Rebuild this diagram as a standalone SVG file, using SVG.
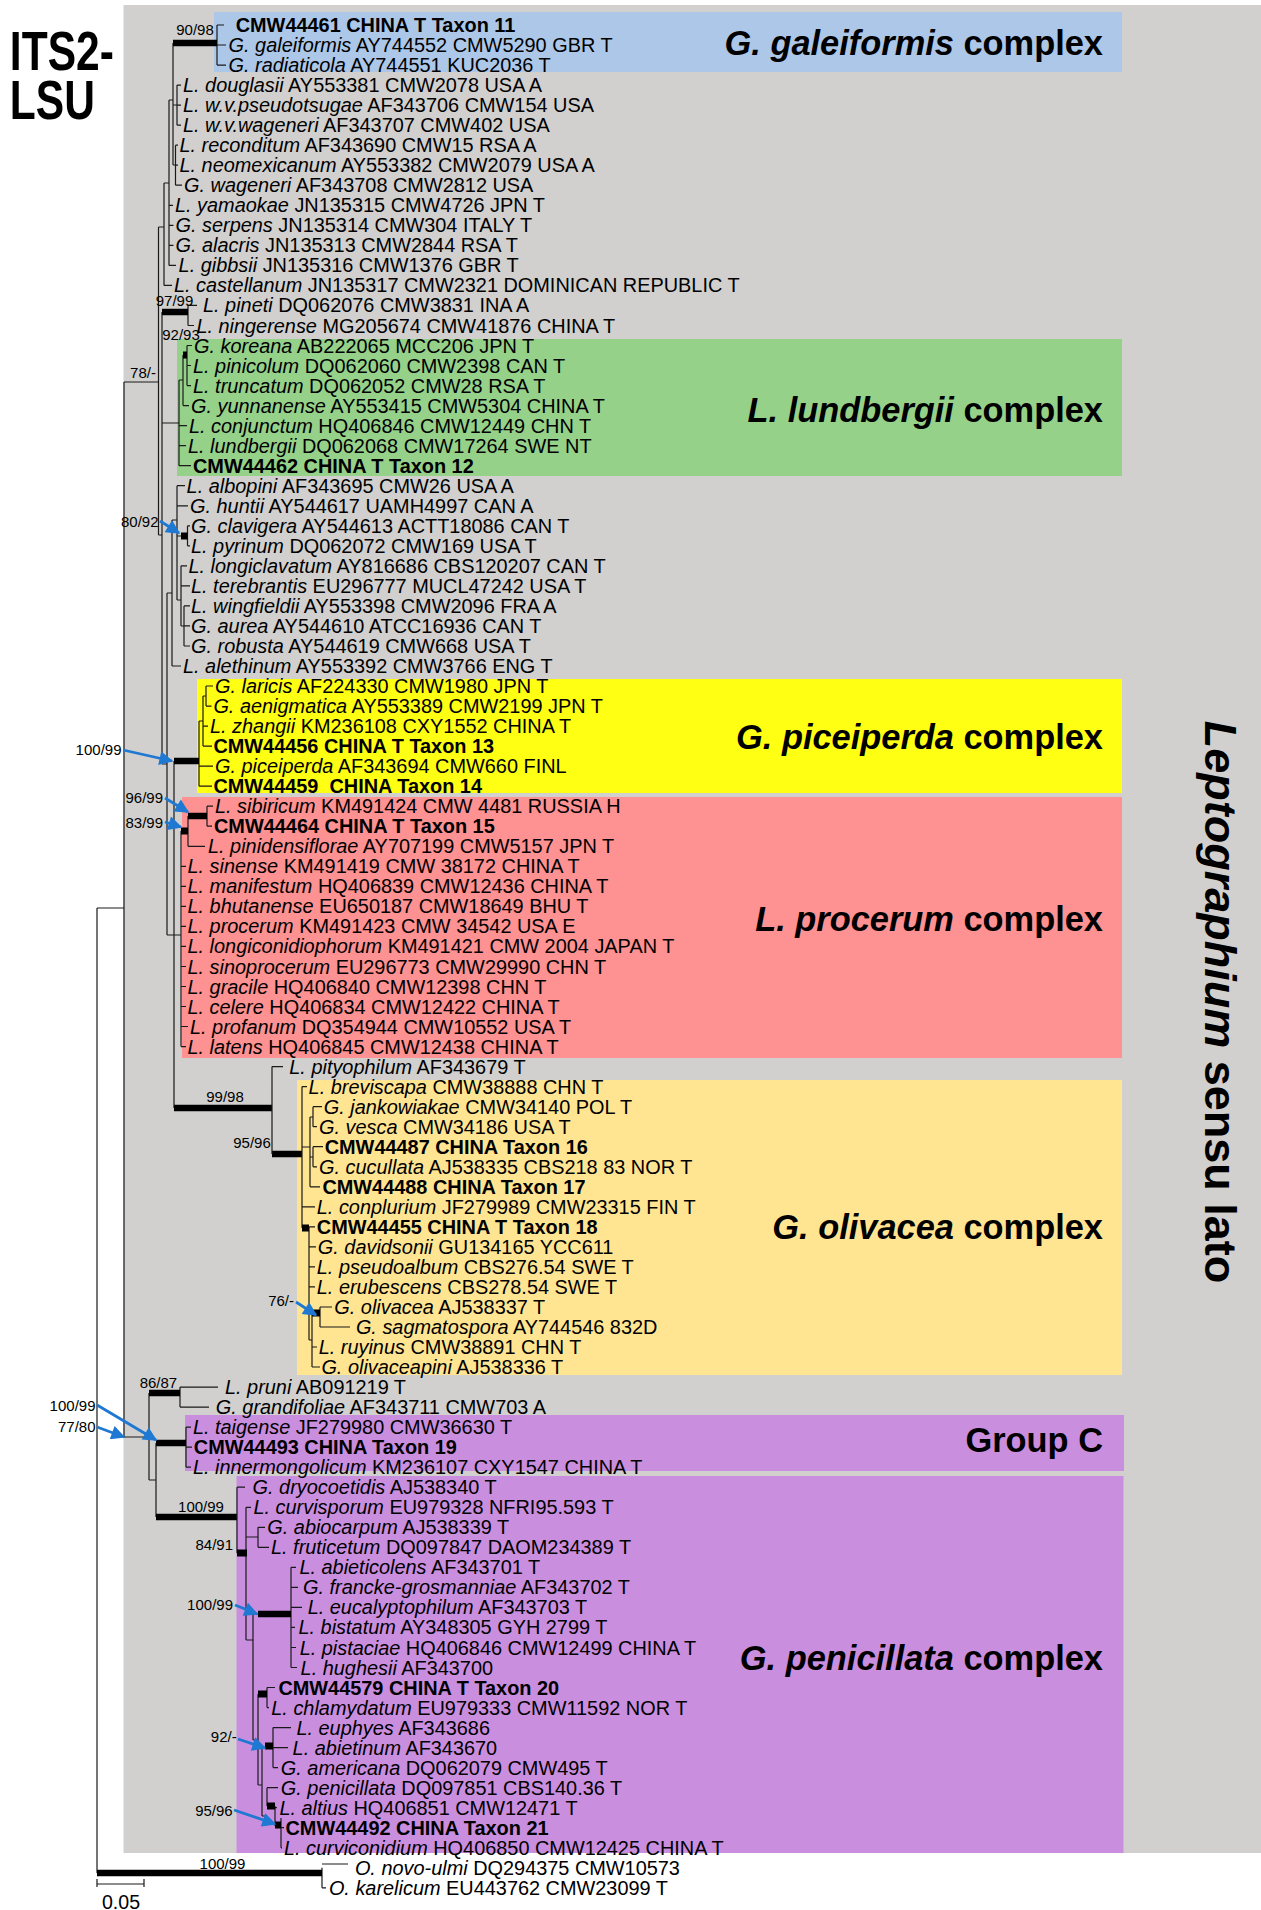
<svg xmlns="http://www.w3.org/2000/svg" width="1261" height="1910" viewBox="0 0 1261 1910">
<defs>
<marker id="ah" viewBox="0 0 10 10" refX="9" refY="5" markerWidth="18" markerHeight="14" markerUnits="userSpaceOnUse" orient="auto"><path d="M0,0 L10,5 L0,10 z" fill="#1f78d1"/></marker>
</defs>
<style>
text{font-family:"Liberation Sans",Arial,Helvetica,sans-serif;fill:#000}
.tx{font-size:19.9px}
.i{font-style:italic}
.b{font-weight:bold}
.sp{font-size:15px;text-anchor:middle}
.spe{font-size:15px;text-anchor:end}
.cl{font-size:34.4px;font-weight:bold;text-anchor:end}
.ti{font-size:56px;font-weight:bold}
.th{fill:none;stroke:#1a1a1a;stroke-width:1.2}
.tb{fill:none;stroke:#000;stroke-width:6.5}
.sq{fill:none;stroke:#000;stroke-width:7}
.ar{fill:none;stroke:#1f78d1;stroke-width:2.8;marker-end:url(#ah)}
</style>
<rect x="0" y="0" width="1261" height="1910" fill="#fff"/>
<g id="backgrounds">
<rect id="bg-lsl" x="123.5" y="5" width="1137.5" height="1848" fill="#d1d0ce"/>
<rect id="bg-galeiformis" x="214" y="12" width="908" height="60" fill="#adc7e9"/>
<rect id="bg-lundbergii" x="177" y="339" width="945" height="137" fill="#96d18a"/>
<rect id="bg-piceiperda" x="197" y="679" width="925" height="114" fill="#ffff14"/>
<rect id="bg-procerum" x="182" y="797" width="940" height="261" fill="#fe9191"/>
<rect id="bg-olivacea" x="297" y="1080" width="825" height="295" fill="#ffe592"/>
<rect id="bg-groupc" x="185" y="1415" width="939" height="56" fill="#ca8edf"/>
<rect id="bg-penicillata" x="236.5" y="1476" width="887" height="377" fill="#ca8edf"/>
</g>
<g id="title" transform="scale(0.76,1)">
<text class="ti" x="13" y="70">ITS2-</text>
<text class="ti" x="13" y="119">LSU</text>
</g>
<g id="clade-labels">
<g id="lab-galeiformis"><text class="cl" x="1103" y="55"><tspan class="i">G. galeiformis</tspan> complex</text></g>
<g id="lab-lundbergii"><text class="cl" x="1103" y="422"><tspan class="i">L. lundbergii</tspan> complex</text></g>
<g id="lab-piceiperda"><text class="cl" x="1103" y="749"><tspan class="i">G. piceiperda</tspan> complex</text></g>
<g id="lab-procerum"><text class="cl" x="1103" y="931"><tspan class="i">L. procerum</tspan> complex</text></g>
<g id="lab-olivacea"><text class="cl" x="1103" y="1239"><tspan class="i">G. olivacea</tspan> complex</text></g>
<g id="lab-groupc"><text class="cl" x="1103" y="1452">Group C</text></g>
<g id="lab-penicillata"><text class="cl" x="1103" y="1670"><tspan class="i">G. penicillata</tspan> complex</text></g>
<g id="lab-lsl"><text transform="translate(1205,1002) rotate(90)" text-anchor="middle" font-size="45" font-weight="bold"><tspan class="i">Leptographium</tspan> sensu lato</text></g>
</g>
<g id="connectors">
<path class="th" d="M97 908 V1873 M97 908 H124 M322 1867.8 V1887.8 M322 1864 H348 M322 1887.8 H326"/>
<path class="tb" d="M97 1873 H322"/>
<path class="th" d="M97 1884 H144 M97 1879 V1887 M144 1879 V1887"/>
<path class="th" d="M124 382 V1437 M124 382 H158.5 M158.5 227 V535"/>
<path class="th" d="M158.5 227 H164 M164 183 V285.4 M164 285.4 H172 M164 183 H169 M169 100 V265.4 M169 205.3 H173 M169 225.3 H173.5 M169 245.3 H173.5 M169 265.4 H176 M169 100 H173 M173 43 V165 M217 25 V65.1 M217 25 H224 M217 45 H226 M217 65.1 H226 M173 105 H177 M177 85.1 V125.2 M177 85.1 H181 M177 105.1 H181 M177 125.2 H181 M173 165 H175.5 M175.5 145.2 V185.2 M175.5 145.2 H178 M175.5 165.2 H178 M175.5 185.2 H182"/>
<path class="tb" d="M173 43 H217"/>
<path class="th" d="M158.5 535 H162 M162 312 V764 M188 305.4 V325.5 M188 305.4 H197 M188 325.5 H194 M162 423 H179 M179 380 V465.7 M179 425.6 H187 M179 445.7 H186 M179 465.7 H191 M179 380 H183 M183 355 V405.6 M183 405.6 H189 M187 345.5 V385.6 M187 345.5 H192 M187 365.5 H191 M187 385.6 H191"/>
<path class="tb" d="M162 312 H188"/>
<path class="sq" d="M183 355 H187"/>
<path class="th" d="M162 764 H167 M167 593 V935 M167 593 H172 M172 520 V666 M172 666 H181 M172 520 H177 M177 485.7 V600 M177 485.7 H185 M177 505.8 H188 M177 536 H181 M187.5 525.8 V545.8 M187.5 525.8 H190 M187.5 545.8 H190 M177 600 H181 M181 565.8 V626 M181 565.8 H187 M181 585.9 H190 M181 626 H184 M184 605.9 V646 M184 605.9 H190 M184 625.9 H190 M184 646 H190"/>
<path class="sq" d="M181 536 H187.5"/>
<path class="th" d="M167 935 H181 M174 761 V1108 M199 721 V786.2 M199 766.1 H213 M199 786.2 H212 M199 721 H203 M203 696 V746.1 M203 726.1 H208 M203 746.1 H212 M203 696 H206 M206 686 V706.1 M206 686 H213 M206 706.1 H211.5"/>
<path class="tb" d="M174 761 H199"/>
<path class="th" d="M181 831 V1046.6 M181 866.3 H186 M181 886.3 H186 M181 906.4 H186 M181 926.4 H186 M181 946.4 H186 M181 966.5 H186 M181 986.5 H186 M181 1006.5 H186 M181 1026.5 H188 M181 1046.6 H186 M188 816 V846.3 M188 846.3 H205 M207 806.2 V826.2 M207 806.2 H213 M207 826.2 H212"/>
<path class="sq" d="M181 831 H188"/>
<path class="tb" d="M188 816 H207"/>
<path class="tb" d="M174 1108 H272 M272 1154 H302"/>
<path class="th" d="M272 1066.6 V1154 M272 1066.6 H283 M302 1086.6 V1228 M302 1086.6 H307 M302 1206.8 H315 M302 1147 H310 M310 1117 V1186.8 M310 1186.8 H320 M310 1117 H313 M313 1106.7 V1126.7 M313 1106.7 H322 M313 1126.7 H317 M310 1157 H313 M313 1146.7 V1166.8 M313 1146.7 H323 M313 1166.8 H317 M309 1226.8 V1340 M309 1226.8 H315 M309 1246.9 H316 M309 1266.9 H315 M309 1286.9 H315 M309 1340 H312 M312 1313 V1367 M312 1347 H317 M312 1367 H320 M320 1307 V1327 M320 1307 H332 M320 1327 H350"/>
<path class="sq" d="M302 1228 H309 M312 1313 H320"/>
<path class="th" d="M124 1437 H149 M149 1393 V1480 M180 1387.1 V1407.1 M180 1387.1 H218 M180 1407.1 H209 M149 1480 H156 M156 1443 V1517 M186 1427.1 V1467.2 M186 1427.1 H191 M186 1447.2 H192 M186 1467.2 H191"/>
<path class="tb" d="M149 1393 H180 M156 1443 H186 M156 1517 H237"/>
<path class="th" d="M237 1487.2 V1553 M237 1487.2 H245 M246 1507.3 V1640 M246 1507.3 H251 M246 1537 H258 M258 1527.3 V1547.3 M258 1527.3 H265 M258 1547.3 H269 M246 1640 H253 M253 1614 V1740 M253 1614 H258 M291 1567.3 V1667.5 M291 1567.3 H296 M291 1587.4 H298 M291 1607.4 H302 M291 1627.4 H295 M291 1647.5 H296 M291 1667.5 H297 M253 1740 H258 M258 1694 V1785 M267 1687.5 V1707.6 M267 1687.5 H275 M267 1707.6 H269 M258 1785 H262 M262 1746 V1816 M273 1727.6 V1767.6 M273 1727.6 H291 M273 1747.6 H288 M273 1767.6 H278 M262 1816 H267 M267 1787.7 V1806 M267 1787.7 H278 M275 1806 V1826 M275 1807.7 H277 M281 1818 V1847.8 M281 1827.7 H284 M281 1847.8 H282"/>
<path class="tb" d="M258 1614 H291"/>
<path class="sq" d="M237 1553 H247 M258 1694 H267 M265 1746 H273 M267 1806 H275 M275 1825 H281"/>
</g>
<g id="arrows">
<path class="ar" d="M160 521 L179 533"/>
<path class="ar" d="M123 750 L172 761"/>
<path class="ar" d="M165 798 L188 812"/>
<path class="ar" d="M165 822 L181 827"/>
<path class="ar" d="M296 1302 L316 1315"/>
<path class="ar" d="M97 1405 L156 1440"/>
<path class="ar" d="M97 1427 L124 1437"/>
<path class="ar" d="M235 1605 L257 1614"/>
<path class="ar" d="M238 1739 L265 1748"/>
<path class="ar" d="M234 1810 L275 1824"/>
</g>
<g id="support">
<text class="sp" x="195" y="35">90/98</text>
<text class="sp" x="174.5" y="306">97/99</text>
<text class="sp" x="181" y="340">92/93</text>
<text class="sp" x="143" y="378">78/-</text>
<text class="spe" x="158.5" y="527">80/92</text>
<text class="spe" x="121.5" y="754.5">100/99</text>
<text class="spe" x="163" y="803">96/99</text>
<text class="spe" x="163" y="827.5">83/99</text>
<text class="sp" x="225" y="1102">99/98</text>
<text class="sp" x="252" y="1148">95/96</text>
<text class="spe" x="294" y="1306">76/-</text>
<text class="sp" x="158.4" y="1388">86/87</text>
<text class="spe" x="95.5" y="1411">100/99</text>
<text class="spe" x="95.5" y="1432">77/80</text>
<text class="sp" x="201" y="1512">100/99</text>
<text class="spe" x="233" y="1549.5">84/91</text>
<text class="spe" x="233" y="1610">100/99</text>
<text class="spe" x="236.7" y="1742">92/-</text>
<text class="spe" x="232.7" y="1816">95/96</text>
<text class="sp" x="222.5" y="1868.5">100/99</text>
<text x="121" y="1908.5" font-size="19.6" text-anchor="middle">0.05</text>
</g>
<g id="taxa" class="tx">
<g id="t01"><text class="tx b" x="235.7" y="32">CMW44461 CHINA T Taxon 11</text></g>
<g id="t02"><text class="tx" x="228.6" y="52"><tspan class="i">G. galeiformis</tspan> AY744552 CMW5290 GBR T</text></g>
<g id="t03"><text class="tx" x="228.6" y="72.1"><tspan class="i">G. radiaticola</tspan> AY744551 KUC2036 T</text></g>
<g id="t04"><text class="tx" x="183" y="92.1"><tspan class="i">L. douglasii</tspan> AY553381 CMW2078 USA A</text></g>
<g id="t05"><text class="tx" x="183" y="112.1"><tspan class="i">L. w.v.pseudotsugae</tspan> AF343706 CMW154 USA</text></g>
<g id="t06"><text class="tx" x="183" y="132.2"><tspan class="i">L. w.v.wageneri</tspan> AF343707 CMW402 USA</text></g>
<g id="t07"><text class="tx" x="179.5" y="152.2"><tspan class="i">L. reconditum</tspan> AF343690 CMW15 RSA A</text></g>
<g id="t08"><text class="tx" x="179.5" y="172.2"><tspan class="i">L. neomexicanum</tspan> AY553382 CMW2079 USA A</text></g>
<g id="t09"><text class="tx" x="184" y="192.2"><tspan class="i">G. wageneri</tspan> AF343708 CMW2812 USA</text></g>
<g id="t10"><text class="tx" x="175" y="212.3"><tspan class="i">L. yamaokae</tspan> JN135315 CMW4726 JPN T</text></g>
<g id="t11"><text class="tx" x="175.5" y="232.3"><tspan class="i">G. serpens</tspan> JN135314 CMW304 ITALY T</text></g>
<g id="t12"><text class="tx" x="175.5" y="252.3"><tspan class="i">G. alacris</tspan> JN135313 CMW2844 RSA T</text></g>
<g id="t13"><text class="tx" x="178.6" y="272.4"><tspan class="i">L. gibbsii</tspan> JN135316 CMW1376 GBR T</text></g>
<g id="t14"><text class="tx" x="174" y="292.4"><tspan class="i">L. castellanum</tspan> JN135317 CMW2321 DOMINICAN REPUBLIC T</text></g>
<g id="t15"><text class="tx" x="203" y="312.4"><tspan class="i">L. pineti</tspan> DQ062076 CMW3831 INA A</text></g>
<g id="t16"><text class="tx" x="196.4" y="332.5"><tspan class="i">L. ningerense</tspan> MG205674 CMW41876 CHINA T</text></g>
<g id="t17"><text class="tx" x="194" y="352.5"><tspan class="i">G. koreana</tspan> AB222065 MCC206 JPN T</text></g>
<g id="t18"><text class="tx" x="193" y="372.5"><tspan class="i">L. pinicolum</tspan> DQ062060 CMW2398 CAN T</text></g>
<g id="t19"><text class="tx" x="193" y="392.6"><tspan class="i">L. truncatum</tspan> DQ062052 CMW28 RSA T</text></g>
<g id="t20"><text class="tx" x="191" y="412.6"><tspan class="i">G. yunnanense</tspan> AY553415 CMW5304 CHINA T</text></g>
<g id="t21"><text class="tx" x="189" y="432.6"><tspan class="i">L. conjunctum</tspan> HQ406846 CMW12449 CHN T</text></g>
<g id="t22"><text class="tx" x="188" y="452.7"><tspan class="i">L. lundbergii</tspan> DQ062068 CMW17264 SWE NT</text></g>
<g id="t23"><text class="tx b" x="193" y="472.7">CMW44462 CHINA T Taxon 12</text></g>
<g id="t24"><text class="tx" x="186.6" y="492.7"><tspan class="i">L. albopini</tspan> AF343695 CMW26 USA A</text></g>
<g id="t25"><text class="tx" x="190" y="512.8"><tspan class="i">G. huntii</tspan> AY544617 UAMH4997 CAN A</text></g>
<g id="t26"><text class="tx" x="191" y="532.8"><tspan class="i">G. clavigera</tspan> AY544613 ACTT18086 CAN T</text></g>
<g id="t27"><text class="tx" x="191" y="552.8"><tspan class="i">L. pyrinum</tspan> DQ062072 CMW169 USA T</text></g>
<g id="t28"><text class="tx" x="188.4" y="572.8"><tspan class="i">L. longiclavatum</tspan> AY816686 CBS120207 CAN T</text></g>
<g id="t29"><text class="tx" x="191" y="592.9"><tspan class="i">L. terebrantis</tspan> EU296777 MUCL47242 USA T</text></g>
<g id="t30"><text class="tx" x="191" y="612.9"><tspan class="i">L. wingfieldii</tspan> AY553398 CMW2096 FRA A</text></g>
<g id="t31"><text class="tx" x="191" y="632.9"><tspan class="i">G. aurea</tspan> AY544610 ATCC16936 CAN T</text></g>
<g id="t32"><text class="tx" x="191" y="653"><tspan class="i">G. robusta</tspan> AY544619 CMW668 USA T</text></g>
<g id="t33"><text class="tx" x="183" y="673"><tspan class="i">L. alethinum</tspan> AY553392 CMW3766 ENG T</text></g>
<g id="t34"><text class="tx" x="215" y="693"><tspan class="i">G. laricis</tspan> AF224330 CMW1980 JPN T</text></g>
<g id="t35"><text class="tx" x="213.4" y="713.1"><tspan class="i">G. aenigmatica</tspan> AY553389 CMW2199 JPN T</text></g>
<g id="t36"><text class="tx" x="210" y="733.1"><tspan class="i">L. zhangii</tspan> KM236108 CXY1552 CHINA T</text></g>
<g id="t37"><text class="tx b" x="213.4" y="753.1">CMW44456 CHINA T Taxon 13</text></g>
<g id="t38"><text class="tx" x="215" y="773.1"><tspan class="i">G. piceiperda</tspan> AF343694 CMW660 FINL</text></g>
<g id="t39"><text class="tx b" x="213.4" y="793.2">CMW44459&#160; CHINA Taxon 14</text></g>
<g id="t40"><text class="tx" x="215" y="813.2"><tspan class="i">L. sibiricum</tspan> KM491424 CMW 4481 RUSSIA H</text></g>
<g id="t41"><text class="tx b" x="214" y="833.2">CMW44464 CHINA T Taxon 15</text></g>
<g id="t42"><text class="tx" x="208" y="853.3"><tspan class="i">L. pinidensiflorae</tspan> AY707199 CMW5157 JPN T</text></g>
<g id="t43"><text class="tx" x="187.5" y="873.3"><tspan class="i">L. sinense</tspan> KM491419 CMW 38172 CHINA T</text></g>
<g id="t44"><text class="tx" x="187.5" y="893.3"><tspan class="i">L. manifestum</tspan> HQ406839 CMW12436 CHINA T</text></g>
<g id="t45"><text class="tx" x="187.5" y="913.4"><tspan class="i">L. bhutanense</tspan> EU650187 CMW18649 BHU T</text></g>
<g id="t46"><text class="tx" x="187.5" y="933.4"><tspan class="i">L. procerum</tspan> KM491423 CMW 34542 USA E</text></g>
<g id="t47"><text class="tx" x="187.5" y="953.4"><tspan class="i">L. longiconidiophorum</tspan> KM491421 CMW 2004 JAPAN T</text></g>
<g id="t48"><text class="tx" x="187.5" y="973.5"><tspan class="i">L. sinoprocerum</tspan> EU296773 CMW29990 CHN T</text></g>
<g id="t49"><text class="tx" x="187.5" y="993.5"><tspan class="i">L. gracile</tspan> HQ406840 CMW12398 CHN T</text></g>
<g id="t50"><text class="tx" x="187.5" y="1013.5"><tspan class="i">L. celere</tspan> HQ406834 CMW12422 CHINA T</text></g>
<g id="t51"><text class="tx" x="190" y="1033.5"><tspan class="i">L. profanum</tspan> DQ354944 CMW10552 USA T</text></g>
<g id="t52"><text class="tx" x="187.5" y="1053.6"><tspan class="i">L. latens</tspan> HQ406845 CMW12438 CHINA T</text></g>
<g id="t53"><text class="tx" x="289.3" y="1073.6"><tspan class="i">L. pityophilum</tspan> AF343679 T</text></g>
<g id="t54"><text class="tx" x="308.6" y="1093.6"><tspan class="i">L. breviscapa</tspan> CMW38888 CHN T</text></g>
<g id="t55"><text class="tx" x="323.7" y="1113.7"><tspan class="i">G. jankowiakae</tspan> CMW34140 POL T</text></g>
<g id="t56"><text class="tx" x="319" y="1133.7"><tspan class="i">G. vesca</tspan> CMW34186 USA T</text></g>
<g id="t57"><text class="tx b" x="324.7" y="1153.7">CMW44487 CHINA Taxon 16</text></g>
<g id="t58"><text class="tx" x="319" y="1173.8"><tspan class="i">G. cucullata</tspan> AJ538335 CBS218 83 NOR T</text></g>
<g id="t59"><text class="tx b" x="322.4" y="1193.8">CMW44488 CHINA Taxon 17</text></g>
<g id="t60"><text class="tx" x="316.8" y="1213.8"><tspan class="i">L. conplurium</tspan> JF279989 CMW23315 FIN T</text></g>
<g id="t61"><text class="tx b" x="316.8" y="1233.8">CMW44455 CHINA T Taxon 18</text></g>
<g id="t62"><text class="tx" x="317.8" y="1253.9"><tspan class="i">G. davidsonii</tspan> GU134165 YCC611</text></g>
<g id="t63"><text class="tx" x="316.8" y="1273.9"><tspan class="i">L. pseudoalbum</tspan> CBS276.54 SWE T</text></g>
<g id="t64"><text class="tx" x="316.8" y="1293.9"><tspan class="i">L. erubescens</tspan> CBS278.54 SWE T</text></g>
<g id="t65"><text class="tx" x="334.3" y="1314"><tspan class="i">G. olivacea</tspan> AJ538337 T</text></g>
<g id="t66"><text class="tx" x="355.9" y="1334"><tspan class="i">G. sagmatospora</tspan> AY744546 832D</text></g>
<g id="t67"><text class="tx" x="318.7" y="1354"><tspan class="i">L. ruyinus</tspan> CMW38891 CHN T</text></g>
<g id="t68"><text class="tx" x="321.4" y="1374"><tspan class="i">G. olivaceapini</tspan> AJ538336 T</text></g>
<g id="t69"><text class="tx" x="225" y="1394.1"><tspan class="i">L. pruni</tspan> AB091219 T</text></g>
<g id="t70"><text class="tx" x="215.8" y="1414.1"><tspan class="i">G. grandifoliae</tspan> AF343711 CMW703 A</text></g>
<g id="t71"><text class="tx" x="192.9" y="1434.1"><tspan class="i">L. taigense</tspan> JF279980 CMW36630 T</text></g>
<g id="t72"><text class="tx b" x="193.8" y="1454.2">CMW44493 CHINA Taxon 19</text></g>
<g id="t73"><text class="tx" x="192.9" y="1474.2"><tspan class="i">L. innermongolicum</tspan> KM236107 CXY1547 CHINA T</text></g>
<g id="t74"><text class="tx" x="252.6" y="1494.2"><tspan class="i">G. dryocoetidis</tspan> AJ538340 T</text></g>
<g id="t75"><text class="tx" x="253.5" y="1514.3"><tspan class="i">L. curvisporum</tspan> EU979328 NFRI95.593 T</text></g>
<g id="t76"><text class="tx" x="267.3" y="1534.3"><tspan class="i">G. abiocarpum</tspan> AJ538339 T</text></g>
<g id="t77"><text class="tx" x="271" y="1554.3"><tspan class="i">L. fruticetum</tspan> DQ097847 DAOM234389 T</text></g>
<g id="t78"><text class="tx" x="299.4" y="1574.3"><tspan class="i">L. abieticolens</tspan> AF343701 T</text></g>
<g id="t79"><text class="tx" x="303" y="1594.4"><tspan class="i">G. francke-grosmanniae</tspan> AF343702 T</text></g>
<g id="t80"><text class="tx" x="307.7" y="1614.4"><tspan class="i">L. eucalyptophilum</tspan> AF343703 T</text></g>
<g id="t81"><text class="tx" x="298.5" y="1634.4"><tspan class="i">L. bistatum</tspan> AY348305 GYH 2799 T</text></g>
<g id="t82"><text class="tx" x="299.7" y="1654.5"><tspan class="i">L. pistaciae</tspan> HQ406846 CMW12499 CHINA T</text></g>
<g id="t83"><text class="tx" x="300.6" y="1674.5"><tspan class="i">L. hughesii</tspan> AF343700</text></g>
<g id="t84"><text class="tx b" x="278.4" y="1694.5">CMW44579 CHINA T Taxon 20</text></g>
<g id="t85"><text class="tx" x="271.3" y="1714.6"><tspan class="i">L. chlamydatum</tspan> EU979333 CMW11592 NOR T</text></g>
<g id="t86"><text class="tx" x="296.4" y="1734.6"><tspan class="i">L. euphyes</tspan> AF343686</text></g>
<g id="t87"><text class="tx" x="292.6" y="1754.6"><tspan class="i">L. abietinum</tspan> AF343670</text></g>
<g id="t88"><text class="tx" x="280.8" y="1774.6"><tspan class="i">G. americana</tspan> DQ062079 CMW495 T</text></g>
<g id="t89"><text class="tx" x="280.8" y="1794.7"><tspan class="i">G. penicillata</tspan> DQ097851 CBS140.36 T</text></g>
<g id="t90"><text class="tx" x="279.4" y="1814.7"><tspan class="i">L. altius</tspan> HQ406851 CMW12471 T</text></g>
<g id="t91"><text class="tx b" x="285.5" y="1834.7">CMW44492 CHINA Taxon 21</text></g>
<g id="t92"><text class="tx" x="284" y="1854.8"><tspan class="i">L. curviconidium</tspan> HQ406850 CMW12425 CHINA T</text></g>
<g id="t93"><text class="tx" x="354.9" y="1874.8"><tspan class="i">O. novo-ulmi</tspan> DQ294375 CMW10573</text></g>
<g id="t94"><text class="tx" x="328.9" y="1894.8"><tspan class="i">O. karelicum</tspan> EU443762 CMW23099 T</text></g>
</g>
</svg>
